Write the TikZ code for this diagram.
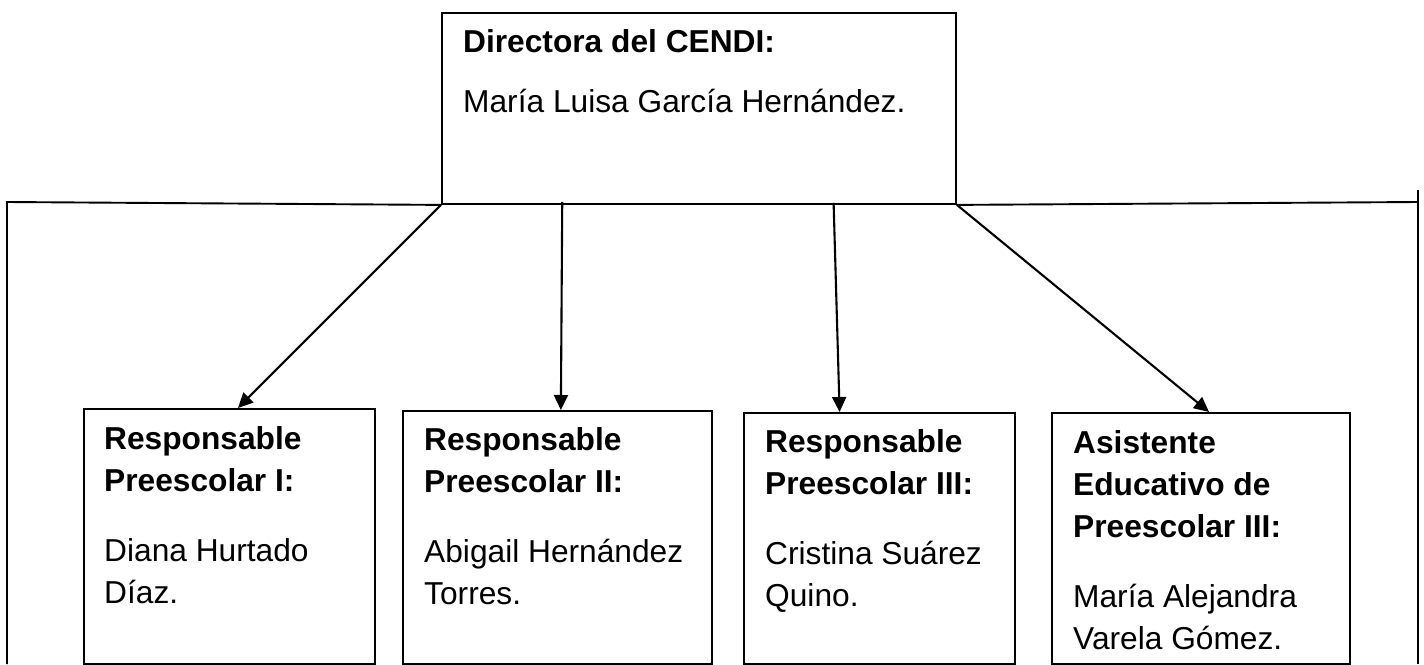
\documentclass[tikz,border=0pt]{standalone}
\usepackage{fontspec}
\setmainfont{Liberation Sans}
\usetikzlibrary{arrows.meta,calc}
\newcommand\rowline[1]{\hbox{#1}}
\newcommand\pgap{\vskip 28pt}
\begin{document}
\begin{tikzpicture}[x=1pt,y=-1pt,
  orgbox/.style={draw=black,line width=1.9pt,fill=none,inner sep=0pt,anchor=north west},
  txt/.style={anchor=base west,inner sep=0pt,font=\fontsize{31.7}{42}\selectfont},
  link/.style={draw=black,line width=1.9pt},
  arr/.style={draw=black,line width=2.1pt,-{Triangle[length=15pt,width=14pt]}}]
\useasboundingbox (0,0) rectangle (1424,664);
\fill[white] (0,0) rectangle (1424,664);
% boxes
\node[orgbox,minimum width=514pt,minimum height=191pt] (top) at (441,12) {};
\node[orgbox,minimum width=291pt,minimum height=255pt] (b1) at (83,408) {};
\node[orgbox,minimum width=309pt,minimum height=253pt] (b2) at (402,410) {};
\node[orgbox,minimum width=271pt,minimum height=251pt] (b3) at (743,412) {};
\node[orgbox,minimum width=298pt,minimum height=251pt] (b4) at (1051,412) {};
% texts
\node[txt] (ttop) at ($(top.north west)+(22,40)$) {\vtop{\rowline{\bfseries Directora del CENDI:}\vskip 18pt\rowline{María Luisa García Hernández.}}};
\node[txt] (t1) at ($(b1.north west)+(21,41.5)$) {\vtop{\rowline{\bfseries Responsable}\rowline{\bfseries Preescolar I:}\pgap\rowline{Diana Hurtado}\rowline{Díaz.}}};
\node[txt] (t2) at ($(b2.north west)+(22,40)$) {\vtop{\rowline{\bfseries Responsable}\rowline{\bfseries Preescolar II:}\pgap\rowline{Abigail Hernández}\rowline{Torres.}}};
\node[txt] (t3) at ($(b3.north west)+(22,40)$) {\vtop{\rowline{\bfseries Responsable}\rowline{\bfseries Preescolar III:}\pgap\rowline{Cristina Suárez}\rowline{Quino.}}};
\node[txt] (t4) at ($(b4.north west)+(22,41)$) {\vtop{\rowline{\bfseries Asistente}\rowline{\bfseries Educativo de}\rowline{\bfseries Preescolar III:}\pgap\rowline{María Alejandra}\rowline{Varela Gómez.}}};
% side lines
\coordinate (lbot) at (7,664);
\coordinate (lcorner) at (7,202);
\coordinate (rend) at (1418,202);
\coordinate (rtop) at (1418,190);
\coordinate (rbot) at (1418,664);
\path[link] (lbot) -- (lcorner) -- (top.south west);
\path[link] (top.south east) -- (rend);
\path[link] (rtop) -- (rbot);
% arrows
\path[arr] (top.south west) -- ($(b1.north west)!0.529!(b1.north east)$);
\path[arr] ($(top.south west)!0.235!(top.south east)+(0,-3)$) -- ($(b2.north west)!0.511!(b2.north east)$);
\path[arr] ($(top.south west)!0.761!(top.south east)+(0,-2)$) -- ($(b3.north west)!0.354!(b3.north east)$);
\path[arr] (top.south east) -- ($(b4.north west)!0.527!(b4.north east)$);
\end{tikzpicture}
\end{document}
